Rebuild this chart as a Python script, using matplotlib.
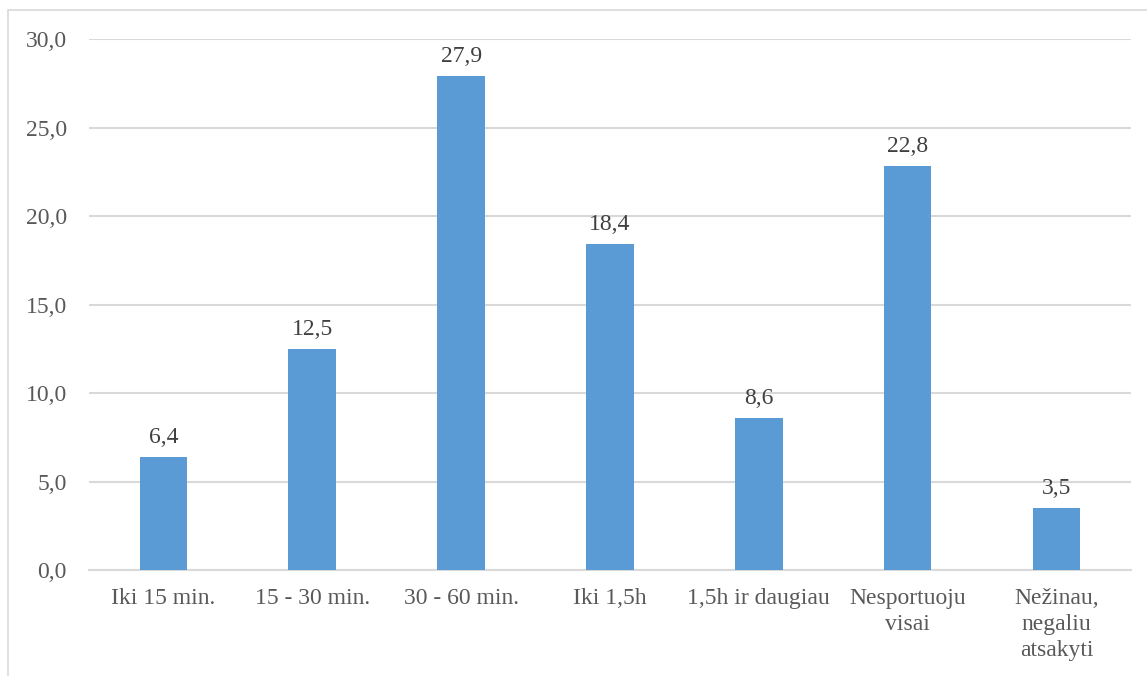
import matplotlib.pyplot as plt
from matplotlib.patches import Rectangle
from matplotlib.ticker import FuncFormatter

plt.rcParams.update({'font.family': 'Liberation Serif'})

categories = ['Iki 15 min.', '15 - 30 min.', '30 - 60 min.', 'Iki 1,5h',
              '1,5h ir daugiau', 'Nesportuoju\nvisai', 'Nežinau,\nnegaliu\natsakyti']
values = [6.4, 12.5, 27.9, 18.4, 8.6, 22.8, 3.5]
yticks = [0, 5, 10, 15, 20, 25, 30]

fig = plt.figure(figsize=(11.47, 6.76), dpi=100)
ax = fig.add_axes([0.0776, 0.1568, 0.9084, 0.7855])

# outer chart border (only left and top visible in the reference)
fig.patches.append(Rectangle((8 / 1147, -0.1), 1.2, 1 - 10 / 676 + 0.1,
                             transform=fig.transFigure, fill=False,
                             edgecolor='#D9D9D9', linewidth=1.2))

x = range(len(categories))
bars = ax.bar(x, values, width=0.32, color='#5B9BD5', zorder=3)

for b, v in zip(bars, values):
    ax.annotate(f'{v:.1f}'.replace('.', ','),
                (b.get_x() + b.get_width() / 2, v),
                xytext=(0, 9), textcoords='offset pixels',
                ha='center', va='bottom', fontsize=17, color='#404040')

ax.set_xlim(-0.5, len(categories) - 0.5)
ax.set_ylim(0, 30)
ax.set_yticks(yticks)
ax.yaxis.set_major_formatter(FuncFormatter(lambda v, p: f'{v:.1f}'.replace('.', ',')))
ax.set_xticks(list(x))
ax.set_xticklabels(categories, linespacing=1.3)
ax.tick_params(axis='both', length=0, labelsize=17, labelcolor='#595959')
ax.tick_params(axis='y', pad=16)
ax.tick_params(axis='x', pad=13)

ax.yaxis.grid(True, color='#D9D9D9', linewidth=1.5, zorder=0)
for s in ['top', 'right', 'left']:
    ax.spines[s].set_visible(False)
ax.spines['bottom'].set_color('#D9D9D9')
ax.spines['bottom'].set_linewidth(1.5)

fig.savefig('out.png', dpi=100)
